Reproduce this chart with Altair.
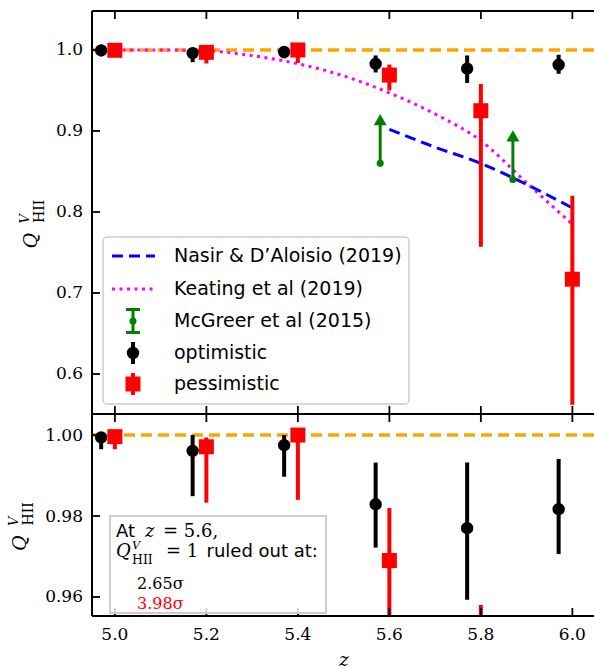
import altair as alt
import pandas as pd

# Volume-weighted ionized fraction Q^V_HII versus redshift z
z_opt = [4.97, 5.17, 5.37, 5.57, 5.77, 5.97]
q_opt = [0.9994, 0.9961, 0.9975, 0.9829, 0.9770, 0.9817]
q_opt_lo = [0.9965, 0.9849, 0.9897, 0.9722, 0.9593, 0.9706]
q_opt_hi = [1.0000, 1.0000, 1.0000, 0.9932, 0.9932, 0.9941]

z_pes = [5.0, 5.2, 5.4, 5.6, 5.8, 6.0]
q_pes = [0.9996, 0.9971, 1.0000, 0.9690, 0.9250, 0.7170]
q_pes_lo = [0.9965, 0.9833, 0.9840, 0.9500, 0.7570, 0.5620]
q_pes_hi = [1.0000, 0.9994, 1.0000, 0.9820, 0.9580, 0.8200]

z_nasir = [5.6, 5.7, 5.8, 5.9, 6.0]
q_nasir = [0.902, 0.880, 0.860, 0.834, 0.805]

z_keating = [5.0, 5.1, 5.2, 5.3, 5.4, 5.5, 5.6, 5.7, 5.8, 5.9, 6.0]
q_keating = [1.000, 1.000, 0.999, 0.993, 0.983, 0.968, 0.947, 0.921, 0.888, 0.836, 0.785]

z_mcgreer = [5.58, 5.87]
q_mcgreer = [0.86, 0.84]

x_ticks = [5.0, 5.2, 5.4, 5.6, 5.8, 6.0]
y_ticks_top = [0.6, 0.7, 0.8, 0.9, 1.0]
y_ticks_bot = [0.96, 0.98, 1.00]

legend_labels = ["Nasir & D\u2019Aloisio (2019)", "Keating et al (2019)",
                 "McGreer et al (2015)", "optimistic", "pessimistic"]
sigma_opt = "2.65\u03c3"
sigma_pes = "3.98\u03c3"

# ---- layout (pixels) ----
W, H_TOP, H_BOT = 502, 403, 202
H = H_TOP + H_BOT
TICK = 8
ARROW = 0.054  # length of the lower-limit arrows

SERIF = "DejaVu Serif"
SANS = "DejaVu Sans"
ORANGE, MAGENTA, BLUE, GREEN, RED = "#FFA500", "#FF00FF", "#0000FF", "#008000", "#FF0000"

xs = alt.Scale(domain=[4.95, 6.0473], nice=False, zero=False)
ys_top = alt.Scale(domain=[0.5506, 1.0481], range=[H_TOP, 0], nice=False, zero=False)
ys_bot = alt.Scale(domain=[0.9553, 1.0052], range=[H, H_TOP], nice=False, zero=False)

ONE = pd.DataFrame({"a": [0]})
opt = pd.DataFrame({"z": z_opt, "q": q_opt, "lo": q_opt_lo, "hi": q_opt_hi})
pes = pd.DataFrame({"z": z_pes, "q": q_pes, "lo": q_pes_lo, "hi": q_pes_hi})
nasir = pd.DataFrame({"z": z_nasir, "q": q_nasir})
keating = pd.DataFrame({"z": z_keating, "q": q_keating})
mcgreer = pd.DataFrame({"z": z_mcgreer, "q": q_mcgreer})


def X(field="z"):
    return alt.X(f"{field}:Q", scale=xs, axis=None)


def Y(field, ys):
    return alt.Y(f"{field}:Q", scale=ys, axis=None)


def text(t, x, y, font=SANS, size=19, color="black", style="normal",
         angle=0, align="left", baseline="alphabetic"):
    return alt.Chart(ONE).mark_text(
        text=t, font=font, fontSize=size, color=color, fontStyle=style,
        angle=angle, align=align, baseline=baseline
    ).encode(x=alt.value(x), y=alt.value(y))


def seg(x0, y0, x1, y1, color="black", width=2.0, dash=None):
    kw = dict(color=color, strokeWidth=width)
    if dash:
        kw["strokeDash"] = dash
    return alt.Chart(ONE).mark_rule(**kw).encode(
        x=alt.value(x0), x2=alt.value(x1), y=alt.value(y0), y2=alt.value(y1))


def panel(ys, top):
    layers = [
        alt.Chart(pd.DataFrame({"q": [1.0]})).mark_rule(
            color=ORANGE, strokeWidth=3.5, strokeDash=[11, 6], clip=True
        ).encode(y=Y("q", ys)),
    ]
    if top:
        layers += [
            alt.Chart(keating).mark_line(
                color=MAGENTA, strokeWidth=3, strokeDash=[3, 4.5],
                interpolate="monotone", clip=True
            ).encode(x=X(), y=Y("q", ys)),
            alt.Chart(nasir).mark_line(
                color=BLUE, strokeWidth=3, strokeDash=[11, 6],
                interpolate="monotone", clip=True
            ).encode(x=X(), y=Y("q", ys)),
        ]
    layers += [
        alt.Chart(opt).mark_rule(color="black", strokeWidth=4, clip=True).encode(
            x=X(), y=Y("lo", ys), y2=alt.Y2("hi:Q")),
        alt.Chart(opt).mark_circle(color="black", size=154, opacity=1, clip=True).encode(
            x=X(), y=Y("q", ys)),
        alt.Chart(pes).mark_rule(color=RED, strokeWidth=4, clip=True).encode(
            x=X(), y=Y("lo", ys), y2=alt.Y2("hi:Q")),
        alt.Chart(pes).mark_square(color=RED, size=225, opacity=1, clip=True).encode(
            x=X(), y=Y("q", ys)),
    ]
    if top:
        arrows = alt.Chart(mcgreer).transform_calculate(tip=f"datum.q + {ARROW}")
        layers += [
            arrows.mark_rule(color=GREEN, strokeWidth=3).encode(
                x=X(), y=Y("q", ys), y2=alt.Y2("tip:Q")),
            arrows.mark_point(shape="triangle-up", filled=True, color=GREEN,
                              size=169, opacity=1).encode(x=X(), y=Y("tip", ys)),
            alt.Chart(mcgreer).mark_circle(color=GREEN, size=50, opacity=1).encode(
                x=X(), y=Y("q", ys)),
        ]
    return layers


layers = panel(ys_top, True) + panel(ys_bot, False)

# ---- frame (left, top, divider, bottom) ----
layers += [
    seg(0, 0, W, 0), seg(0, H_TOP, W, H_TOP), seg(0, H, W, H), seg(0, 0, 0, H),
]

# ---- inward ticks and tick labels ----
xt = pd.DataFrame({"t": x_ticks})
for y0, y1 in [(0, TICK), (H_TOP - TICK, H_TOP), (H_TOP, H_TOP + TICK), (H - TICK, H)]:
    layers.append(alt.Chart(xt).mark_rule(color="black", strokeWidth=1.8).encode(
        x=X("t"), y=alt.value(y0), y2=alt.value(y1)))
layers.append(alt.Chart(xt).mark_text(
    font=SERIF, fontSize=17, color="black", align="center", baseline="alphabetic"
).encode(x=X("t"), y=alt.value(H + 24), text=alt.Text("t:Q", format=".1f")))


def y_axis(ticks, ys, fmt):
    return alt.Chart(pd.DataFrame({"t": ticks})).mark_rule(
        color="black", strokeWidth=1.8
    ).encode(
        y=alt.Y("t:Q", scale=ys, axis=alt.Axis(
            values=ticks, format=fmt, orient="left", ticks=False, domain=False,
            grid=False, labelFont=SERIF, labelFontSize=17, labelColor="black",
            labelPadding=9.5, labelFlush=False, labelOverlap=False, title="")),
        x=alt.value(0), x2=alt.value(TICK))


layers += [y_axis(y_ticks_top, ys_top, ".1f"), y_axis(y_ticks_bot, ys_bot, ".2f")]

# ---- axis titles ----
def q_title(xq, yq):
    return [
        text("Q", xq, yq, font=SERIF, size=19, style="italic", angle=270),
        text("V", xq - 8, yq - 25, font=SERIF, size=13, style="italic", angle=270),
        text("HII", xq + 7, yq - 25.5, font=SERIF, size=14, angle=270),
    ]


layers += q_title(-55.5, 237.5)
layers += q_title(-66.5, 540)
layers.append(text("z", 252, 655, font=SERIF, size=19, style="italic", align="center"))

# ---- legend ----
LX0, LX1, LY0, LY1 = 11, 317, 226, 393
GX = 41
rows = [245, 278, 310, 342, 373]
layers.append(alt.Chart(ONE).mark_rect(
    fill="white", fillOpacity=0.8, stroke="#cccccc", strokeWidth=1.5, cornerRadius=4
).encode(x=alt.value(LX0), x2=alt.value(LX1), y=alt.value(LY0), y2=alt.value(LY1)))
layers += [
    seg(20, rows[0], 63, rows[0], color=BLUE, width=3, dash=[11, 6]),
    seg(20, rows[1], 63, rows[1], color=MAGENTA, width=3, dash=[3, 4.5]),
    seg(GX, rows[2] - 11.5, GX, rows[2] + 11.5, color=GREEN, width=3),
    seg(GX - 7, rows[2] - 11.5, GX + 7, rows[2] - 11.5, color=GREEN, width=3),
    seg(GX - 7, rows[2] + 11.5, GX + 7, rows[2] + 11.5, color=GREEN, width=3),
    alt.Chart(ONE).mark_circle(color=GREEN, size=50, opacity=1).encode(
        x=alt.value(GX), y=alt.value(rows[2])),
    seg(GX, rows[3] - 11, GX, rows[3] + 11, color="black", width=4),
    alt.Chart(ONE).mark_circle(color="black", size=154, opacity=1).encode(
        x=alt.value(GX), y=alt.value(rows[3])),
    seg(GX, rows[4] - 11, GX, rows[4] + 11, color=RED, width=4),
    alt.Chart(ONE).mark_square(color=RED, size=225, opacity=1).encode(
        x=alt.value(GX), y=alt.value(rows[4])),
]
for lab, ry in zip(legend_labels, rows):
    layers.append(text(lab, 82, ry, baseline="middle"))

# ---- significance annotation in the lower panel ----
layers.append(alt.Chart(ONE).mark_rect(
    fill="white", fillOpacity=0.8, stroke="#cccccc", strokeWidth=2
).encode(x=alt.value(18), x2=alt.value(234), y=alt.value(505), y2=alt.value(602)))
layers += [
    text("At", 24, 525.5, size=18),
    text("z", 53, 525.5, font=SERIF, size=18, style="italic"),
    text("= 5.6,", 71, 525.5, font=SERIF, size=18),
    text("Q", 24, 546, font=SERIF, size=18, style="italic"),
    text("V", 40, 538, font=SERIF, size=11.5, style="italic"),
    text("HII", 40, 553, font=SERIF, size=12.5),
    text("= 1", 74, 546, font=SERIF, size=18),
    text("ruled out at:", 114.5, 546, size=18),
    text(sigma_opt, 45, 577.5, font=SERIF, size=16),
    text(sigma_pes, 45, 597.5, font=SERIF, size=16, color=RED),
]

chart = alt.layer(*layers).resolve_scale(y="independent").resolve_axis(
    y="independent"
).properties(
    width=W, height=H,
    padding={"left": 92, "top": 11, "right": 0, "bottom": 53},
    autosize=alt.AutoSizeParams(type="none"),
).configure_view(stroke=None)

chart.save("out.html", embed_options={"renderer": "svg", "actions": False})
